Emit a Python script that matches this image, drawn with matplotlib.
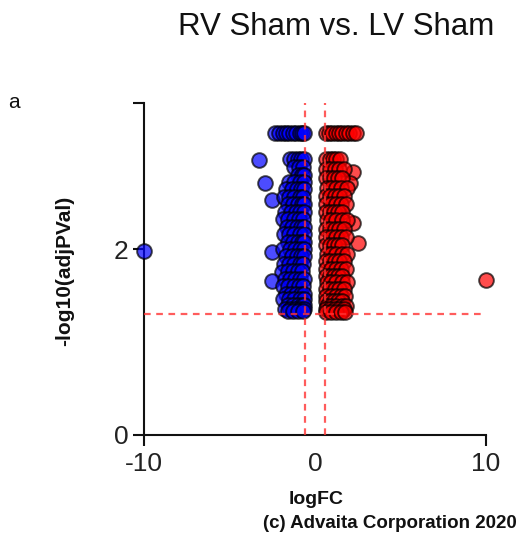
import matplotlib
matplotlib.use("Agg")
import matplotlib.pyplot as plt
from matplotlib.ticker import FixedLocator

plt.rcParams['font.family'] = ['Liberation Sans', 'DejaVu Sans']

title = "RV Sham vs. LV Sham"
xlabel = "logFC"
ylabel = "-log10(adjPVal)"
credit = "(c) Advaita Corporation 2020"
panel = "a"

fc_threshold = 0.585
p_threshold = 1.301
x_ticks = [-10, 0, 10]
y_ticks = [0, 2]
x_range = [-10, 10]
y_range = [0, 3.57]

# Down-regulated (blue) genes: logFC, -log10(adjPVal)
down_x = [-2.35, -2.1, -1.9, -1.7, -1.5, -1.3, -1.1, -0.9, -0.75, -0.65,
          -3.27, -1.45, -1.2, -1.0, -0.8, -0.65,
          -1.2, -0.95, -0.7,
          -1.0, -0.75, -0.62,
          -2.92, -1.5, -1.2, -0.9, -0.65,
          -1.7, -1.35, -1.05, -0.8, -0.63,
          -2.5, -1.8, -1.5, -1.2, -0.9, -0.68,
          -1.6, -1.3, -1.0, -0.75, -0.62,
          -1.75, -1.4, -1.1, -0.85, -0.65,
          -1.9, -1.55, -1.2, -0.95, -0.7,
          -1.65, -1.35, -1.05, -0.8, -0.62,
          -1.8, -1.5, -1.2, -0.9, -0.67,
          -1.6, -1.3, -1.0, -0.75, -0.62,
          -2.5, -1.9, -1.45, -1.15, -0.85, -0.65,
          -1.7, -1.35, -1.05, -0.8, -0.62,
          -1.8, -1.5, -1.2, -0.9, -0.68,
          -1.93, -1.6, -1.3, -1.0, -0.75,
          -2.5, -1.75, -1.45, -1.15, -0.85, -0.63,
          -1.9, -1.55, -1.25, -0.95, -0.7,
          -1.7, -1.4, -1.1, -0.8, -0.62,
          -1.85, -1.5, -1.2, -0.9, -0.67,
          -1.6, -1.3, -1.0, -0.75, -0.62,
          -1.75, -1.45, -1.15, -0.85, -0.65,
          -1.6, -1.3, -1.0, -0.72,
          -10.0]
down_y = [3.25, 3.25, 3.25, 3.25, 3.25, 3.25, 3.25, 3.25, 3.25, 3.25,
          2.96, 2.97, 2.97, 2.97, 2.97, 2.97,
          2.88, 2.88, 2.88,
          2.80, 2.80, 2.80,
          2.71, 2.72, 2.72, 2.72, 2.72,
          2.64, 2.64, 2.64, 2.64, 2.64,
          2.53, 2.56, 2.56, 2.56, 2.56, 2.56,
          2.48, 2.48, 2.48, 2.48, 2.48,
          2.40, 2.40, 2.40, 2.40, 2.40,
          2.32, 2.32, 2.32, 2.32, 2.32,
          2.24, 2.24, 2.24, 2.24, 2.24,
          2.16, 2.16, 2.16, 2.16, 2.16,
          2.08, 2.08, 2.08, 2.08, 2.08,
          1.97, 2.00, 2.00, 2.00, 2.00, 2.00,
          1.92, 1.92, 1.92, 1.92, 1.92,
          1.84, 1.84, 1.84, 1.84, 1.84,
          1.75, 1.76, 1.76, 1.76, 1.76,
          1.66, 1.68, 1.68, 1.68, 1.68, 1.68,
          1.60, 1.60, 1.60, 1.60, 1.60,
          1.52, 1.52, 1.52, 1.52, 1.52,
          1.46, 1.46, 1.46, 1.46, 1.46,
          1.40, 1.40, 1.40, 1.40, 1.40,
          1.36, 1.36, 1.36, 1.36, 1.36,
          1.33, 1.33, 1.33, 1.33,
          1.98]

# Up-regulated (red) genes
up_x = [0.62, 0.8, 1.0, 1.2, 1.4, 1.6, 1.8, 2.0, 2.2, 2.4,
        0.65, 0.85, 1.05, 1.25, 1.45,
        2.2, 0.65, 0.9, 1.15, 1.4, 1.7,
        2.05, 0.63, 0.85, 1.1, 1.35, 1.6,
        0.68, 0.95, 1.25, 1.5, 1.85,
        0.62, 0.9, 1.15, 1.4, 1.7,
        0.66, 0.95, 1.2, 1.5, 1.8,
        0.63, 0.85, 1.1, 1.35, 1.6,
        2.22, 0.68, 0.95, 1.25, 1.55, 1.9,
        0.62, 0.9, 1.15, 1.4, 1.7,
        2.5, 0.66, 0.95, 1.2, 1.5, 1.8,
        0.63, 0.85, 1.1, 1.35, 1.6,
        0.68, 0.95, 1.25, 1.55, 1.85,
        0.62, 0.9, 1.15, 1.4, 1.7,
        0.66, 0.95, 1.2, 1.5, 1.8,
        0.63, 0.85, 1.1, 1.35, 1.6,
        0.68, 0.95, 1.25, 1.55, 1.85,
        0.62, 0.9, 1.15, 1.4, 1.7,
        0.66, 0.95, 1.2, 1.5, 1.75,
        0.63, 0.85, 1.1, 1.35, 1.6,
        0.68, 0.95, 1.25, 1.55, 1.8,
        0.62, 0.9, 1.15, 1.4, 1.7,
        0.66, 0.95, 1.2, 1.5, 1.75,
        10.0]
up_y = [3.25, 3.25, 3.25, 3.25, 3.25, 3.25, 3.25, 3.25, 3.25, 3.25,
        2.97, 2.97, 2.97, 2.97, 2.97,
        2.83, 2.86, 2.86, 2.86, 2.86, 2.86,
        2.71, 2.76, 2.76, 2.76, 2.76, 2.76,
        2.66, 2.66, 2.66, 2.66, 2.66,
        2.57, 2.57, 2.57, 2.57, 2.57,
        2.48, 2.48, 2.48, 2.48, 2.48,
        2.40, 2.40, 2.40, 2.40, 2.40,
        2.28, 2.31, 2.31, 2.31, 2.31, 2.31,
        2.22, 2.22, 2.22, 2.22, 2.22,
        2.06, 2.13, 2.13, 2.13, 2.13, 2.13,
        2.04, 2.04, 2.04, 2.04, 2.04,
        1.95, 1.95, 1.95, 1.95, 1.95,
        1.87, 1.87, 1.87, 1.87, 1.87,
        1.79, 1.79, 1.79, 1.79, 1.79,
        1.71, 1.71, 1.71, 1.71, 1.71,
        1.64, 1.64, 1.64, 1.64, 1.64,
        1.57, 1.57, 1.57, 1.57, 1.57,
        1.50, 1.50, 1.50, 1.50, 1.50,
        1.44, 1.44, 1.44, 1.44, 1.44,
        1.39, 1.39, 1.39, 1.39, 1.39,
        1.35, 1.35, 1.35, 1.35, 1.35,
        1.32, 1.32, 1.32, 1.32, 1.32,
        1.67]

fig = plt.figure(figsize=(5.22, 5.38), dpi=100)
ax = fig.add_axes([144/522, 1 - 435/538, 342/522, 332/538])

ax.scatter(down_x, down_y, s=112, c='#0000ff', alpha=0.7, edgecolors='black',
           linewidths=1.4, clip_on=False, zorder=3)
ax.scatter(up_x, up_y, s=112, c='#ff0000', alpha=0.7, edgecolors='black',
           linewidths=1.4, clip_on=False, zorder=3)

dash = dict(color='#ff3333', alpha=0.8, lw=1.6, ls=(0, (3.0, 2.5)), zorder=4)
ax.axhline(p_threshold, **dash)
ax.axvline(-fc_threshold, **dash)
ax.axvline(fc_threshold, **dash)

ax.set_xlim(x_range)
ax.set_ylim(y_range)
for s in ['top', 'right']:
    ax.spines[s].set_visible(False)
for s in ['left', 'bottom']:
    ax.spines[s].set_linewidth(1.5)
    ax.spines[s].set_color('#111111')

ax.set_xticks(x_ticks)
ax.set_yticks(y_ticks)
ax.set_xticklabels([str(v) for v in x_ticks])
ax.set_yticklabels([str(v) for v in y_ticks])
ax.yaxis.set_minor_locator(FixedLocator([y_range[1]]))
ax.tick_params(axis='both', which='major', direction='out', length=8, width=1.5,
               labelsize=19, colors='#111111', labelcolor='#222222')
ax.tick_params(axis='x', pad=4)
ax.tick_params(axis='y', pad=3)
ax.tick_params(axis='y', which='minor', direction='out', length=8, width=1.5,
               colors='#111111')
ax.xaxis.get_major_ticks()[1].tick1line.set_visible(False)

fig.text(316/522, 1 - 499/538, xlabel, ha='center', va='center',
         fontsize=14, fontweight='bold', color='#111111')
fig.text(65/522, 1 - 271/538, ylabel, ha='center', va='center', rotation=90,
         fontsize=15, fontweight='bold', color='#111111')
fig.text(336/522, 1 - 27/538, title, ha='center', va='center', fontsize=22.5,
         color='#111111')
fig.text(517/522, 1 - 523/538, credit, ha='right', va='center', fontsize=13.5,
         fontweight='bold', color='#111111')
fig.text(14/522, 1 - 103/538, panel, ha='center', va='center', fontsize=15,
         color='#111111')

fig.savefig('out.png', dpi=100)
